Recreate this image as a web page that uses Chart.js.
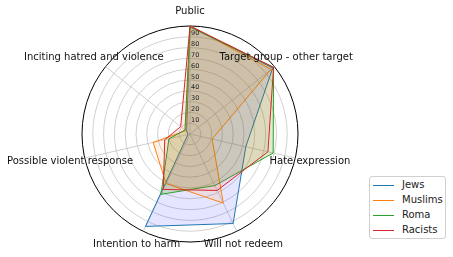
<!DOCTYPE html>
<html>
<head>
<meta charset="utf-8">
<script src="https://cdn.jsdelivr.net/npm/chart.js@4/dist/chart.umd.min.js"></script>
<style>
  html, body { margin: 0; padding: 0; background: #fff; }
  #wrap { position: relative; width: 453px; height: 257px; }
  #legend {
    position: absolute; left: 369px; top: 176px; width: 75px; height: 61px;
    border: 1px solid #d0d0d0; border-radius: 3px; background: #fff;
    font: 10px "DejaVu Sans", sans-serif; color: #222;
  }
  #legend .row { position: absolute; left: 3px; height: 12px; line-height: 12px; }
  #legend .swatch { position: absolute; left: 0; top: 6px; width: 21px; height: 1px; }
  #legend .name { position: absolute; left: 29px; top: 0; white-space: nowrap; }
</style>
</head>
<body>
<div id="wrap">
  <canvas id="chart" width="453" height="257"></canvas>
  <div id="legend"></div>
</div>
<script>
const categories = ['Public', 'Target group - other target', 'Hate expression', 'Will not redeem',
  'Intention to harm', 'Possible violent response', 'Inciting hatred and violence'];
const seriesNames = ['Jews', 'Muslims', 'Roma', 'Racists'];
const jews = [100, 98, 53, 92, 95, 2, 4];
const muslims = [100, 96, 21, 71, 51, 35, 5];
const roma = [99, 99, 79, 53, 62, 20, 6];
const racists = [100, 99, 74, 58, 57, 24, 11];
const tickLabels = [10, 20, 30, 40, 50, 60, 70, 80, 90];

const lineColors = ['#1f77b4', '#ff7f0e', '#2ca02c', '#d62728'];
const fillColors = ['rgba(0,0,255,0.1)', 'rgba(255,150,30,0.12)', 'rgba(80,160,0,0.2)', 'rgba(255,0,0,0.08)'];
const values = [jews, muslims, roma, racists];

// labels and radial tick text drawn like matplotlib's polar axes
const polarText = {
  id: 'polarText',
  afterDraw(chart) {
    const s = chart.scales.r;
    const ctx = chart.ctx;
    ctx.save();
    ctx.fillStyle = '#111';
    ctx.font = '10px "DejaVu Sans", sans-serif';
    ctx.textAlign = 'center';
    ctx.textBaseline = 'middle';
    categories.forEach((c, i) => {
      const p = s.getPointPosition(i, s.drawingArea * 123 / 108);
      ctx.fillText(c, p.x, p.y);
    });
    ctx.fillStyle = '#222';
    ctx.font = '6.5px "DejaVu Sans", sans-serif';
    ctx.textAlign = 'left';
    tickLabels.forEach(v => {
      const d = s.getDistanceFromCenterForValue(v);
      ctx.fillText(String(v), s.xCenter + 1, s.yCenter - d - 3);
    });
    ctx.restore();
  }
};

new Chart(document.getElementById('chart'), {
  type: 'radar',
  data: {
    labels: categories,
    datasets: seriesNames.map((name, i) => ({
      label: name,
      data: values[i],
      borderColor: lineColors[i],
      backgroundColor: fillColors[i],
      borderWidth: 1,
      pointRadius: 0,
      fill: true,
      tension: 0,
      order: 3 - i
    }))
  },
  options: {
    responsive: false,
    animation: false,
    plugins: { legend: { display: false }, tooltip: { enabled: false } },
    scales: {
      r: {
        min: 0,
        max: 100,
        ticks: { display: false, stepSize: 10 },
        pointLabels: { display: false },
        grid: {
          circular: true,
          color: ctx => ctx.tick && ctx.tick.value === 100 ? '#000' : '#c4c4c4',
          lineWidth: ctx => ctx.tick && ctx.tick.value === 100 ? 1 : 0.8
        },
        angleLines: { color: '#c4c4c4', lineWidth: 0.8 },
        afterFit(scale) {
          scale.xCenter = 190;
          scale.yCenter = 134;
          scale.drawingArea = 108;
        }
      }
    }
  },
  plugins: [polarText]
});

const legend = document.getElementById('legend');
legend.innerHTML = seriesNames.map((name, i) => `
  <div class="row" style="top:${2 + i * 15}px">
    <div class="swatch" style="background:${lineColors[i]}"></div>
    <div class="name">${name}</div>
  </div>`).join('');
</script>
</body>
</html>
